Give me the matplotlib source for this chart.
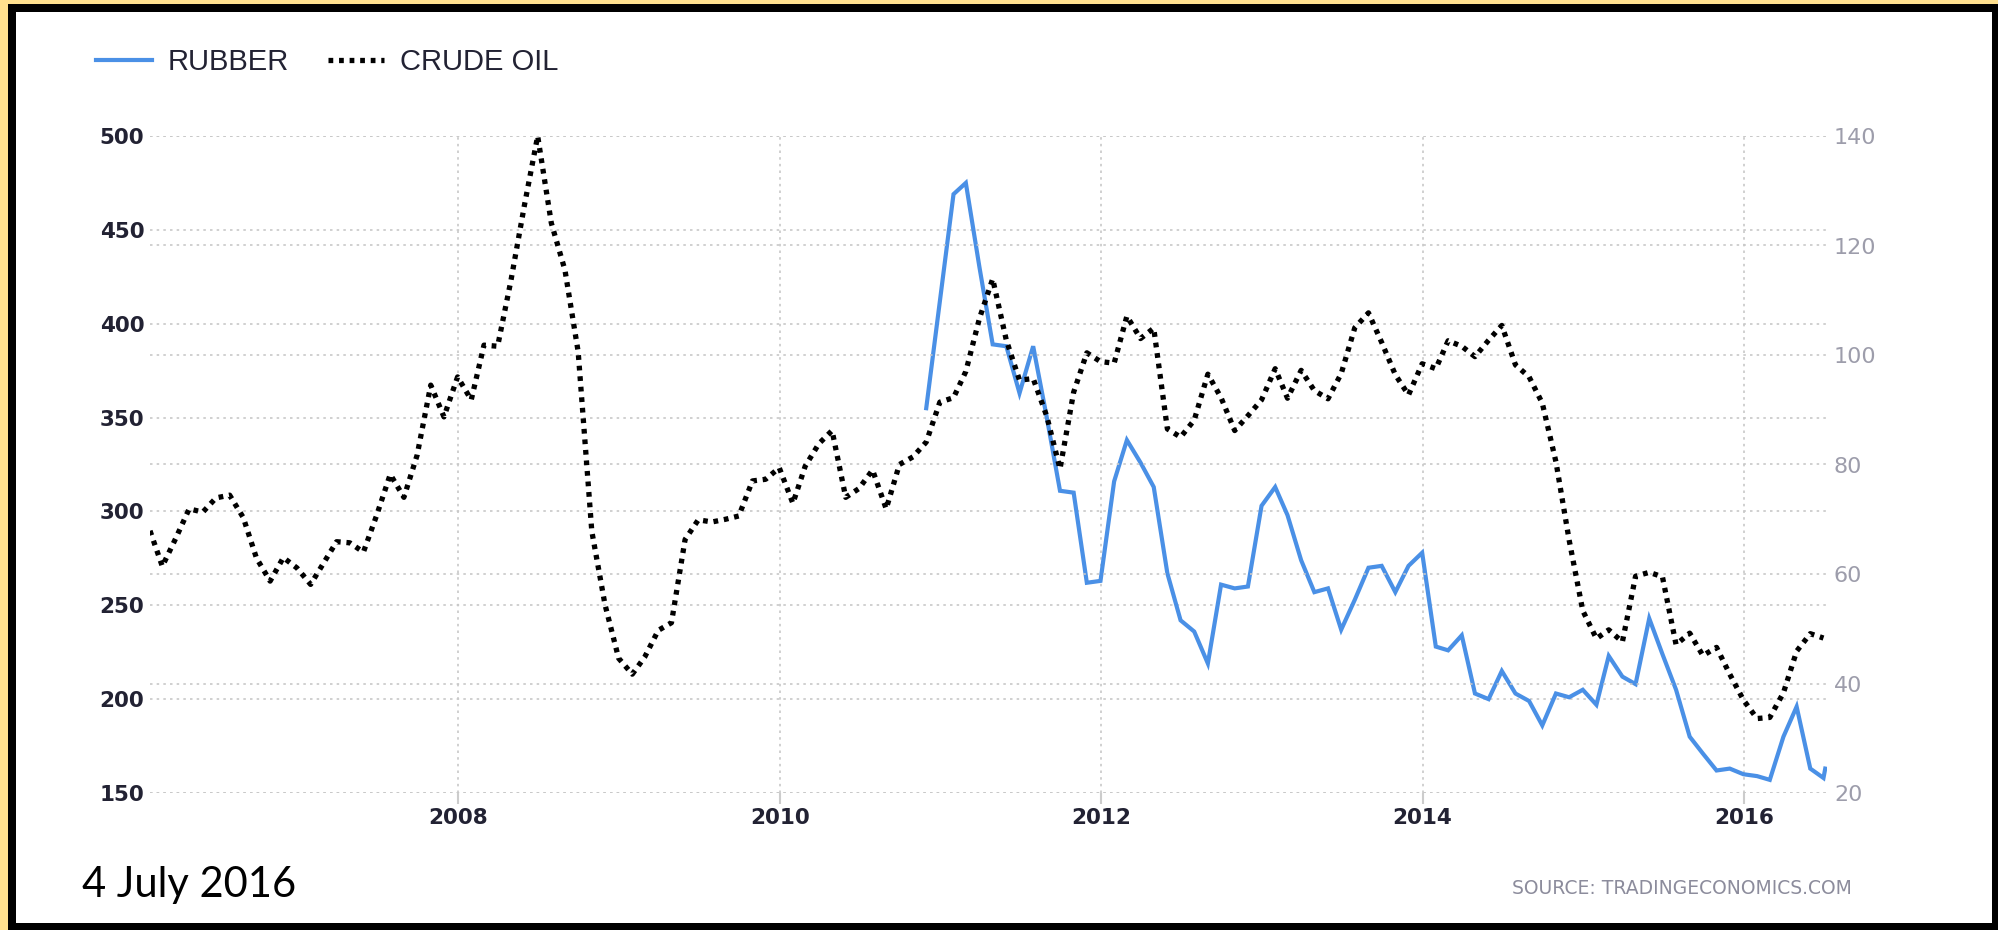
import pandas as pd
from matplotlib import pyplot as plt
from matplotlib.lines import Line2D
from matplotlib.patches import Rectangle
import matplotlib.dates as mdates


# Monthly values (month ends).
crude_oil = [
    67.9, 61.4, 66.6, 71.9, 71.3, 73.9, 74.4, 70.3, 62.9, 58.7, 63.0, 61.1,     # 2006
    58.1, 61.8, 65.9, 65.7, 64.0, 70.7, 78.2, 74.0, 81.7, 94.5, 88.7, 96.0,     # 2007
    91.8, 101.8, 101.6, 113.5, 127.4, 140.0, 124.1, 115.5, 100.6, 67.8, 54.4, 44.6,  # 2008
    41.7, 44.8, 49.7, 51.1, 66.3, 69.9, 69.5, 70.0, 70.6, 77.0, 77.3, 79.4,     # 2009
    72.9, 79.7, 83.8, 86.2, 74.0, 75.6, 79.0, 71.9, 80.0, 81.4, 84.1, 91.4,     # 2010
    92.2, 97.0, 106.7, 113.9, 102.7, 95.4, 95.7, 88.8, 79.2, 93.2, 100.4, 98.8,  # 2011
    98.5, 107.1, 103.0, 104.9, 86.5, 85.0, 88.1, 96.5, 92.2, 86.2, 88.9, 91.8,  # 2012
    97.5, 92.1, 97.2, 93.5, 92.0, 96.6, 105.0, 107.7, 102.3, 96.4, 92.7, 98.4,  # 2013
    97.5, 102.6, 101.6, 99.7, 102.7, 105.4, 98.2, 96.0, 91.2, 80.5, 66.2, 53.3,  # 2014
    48.2, 49.8, 47.6, 59.6, 60.3, 59.5, 47.1, 49.2, 45.1, 46.6, 41.7, 37.0,     # 2015
    33.6, 33.8, 38.3, 45.9, 49.1, 48.3,                                         # 2016
]
crude_dates = pd.date_range('2006-01-31', periods=len(crude_oil), freq='ME')

rubber = [
    355, 412,                                                   # 2010 Nov-Dec
    469, 475, 430, 389, 388, 363, 388, 350, 311, 310, 262, 263,  # 2011
    316, 338, 326, 313, 267, 242, 236, 219, 261, 259, 260, 303,  # 2012
    313, 298, 274, 257, 259, 237, 253, 270, 271, 257, 271, 278,  # 2013
    228, 226, 234, 203, 200, 215, 203, 199, 186, 203, 201, 205,  # 2014
    197, 223, 212, 208, 243, 224, 205, 180, 171, 162, 163, 160,  # 2015
    159, 157, 180, 196, 163, 158,                                # 2016
]
rubber_dates = list(pd.date_range('2010-11-30', periods=len(rubber), freq='ME'))
# last quote of the series (4 July 2016)
rubber.append(163)
rubber_dates.append(pd.Timestamp('2016-07-04'))

rubber_ticks = [150, 200, 250, 300, 350, 400, 450, 500]
crude_ticks = [20, 40, 60, 80, 100, 120, 140]
year_ticks = ['2008', '2010', '2012', '2014', '2016']

W, H = 1998, 930
fig = plt.figure(figsize=(W / 100, H / 100), dpi=100)
fig.patch.set_facecolor('#ffe08e')

# black frame + white card
fig.patches.append(Rectangle((8 / W, 0), 1, 926 / H, transform=fig.transFigure,
                             facecolor='black', edgecolor='none', zorder=-2))
fig.patches.append(Rectangle((16 / W, 7 / H), (1992 - 16) / W, (918 - 7) / H,
                             transform=fig.transFigure, facecolor='white',
                             edgecolor='none', zorder=-1))

ax = fig.add_axes([150 / W, 137 / H, (1827 - 150) / W, (794 - 137) / H])
ax.set_facecolor('none')
ax2 = ax.twinx()

blue = '#4a90e6'
grid_kw = dict(color='#c8c8c8', linestyle=(0, (1.5, 2.5)), linewidth=1.2)
dots = (0, (0.9, 1.1))

ax.plot(rubber_dates, rubber, color=blue, linewidth=3.0, solid_joinstyle='miter')
ax2.plot(crude_dates, crude_oil, color='black', linewidth=3.8, linestyle=dots)

ax.set_ylim(150, 500)
ax2.set_ylim(20, 140)
ax.set_yticks(rubber_ticks)
ax2.set_yticks(crude_ticks)
ax.set_xlim(crude_dates[0], pd.Timestamp('2016-07-08'))
ax.set_xticks([pd.Timestamp(y + '-01-01') for y in year_ticks])
ax.xaxis.set_major_formatter(mdates.DateFormatter('%Y'))

ax.grid(True, axis='both', **grid_kw)
ax2.grid(True, axis='y', **grid_kw)
ax.set_axisbelow(True)

for a in (ax, ax2):
    for s in a.spines.values():
        s.set_visible(False)

ax.tick_params(axis='y', length=0, pad=4, labelsize=15.5, labelcolor='#222233')
for lab in ax.get_yticklabels():
    lab.set_fontweight('bold')
ax.tick_params(axis='x', length=8, width=1.5, color='#cccccc', pad=3,
               labelsize=15.5, labelcolor='#222233')
for lab in ax.get_xticklabels():
    lab.set_fontweight('bold')
ax2.tick_params(axis='y', length=0, pad=5, labelsize=16, labelcolor='#9d9dab')

# legend
handles = [Line2D([], [], color=blue, linewidth=3.0),
           Line2D([], [], color='black', linewidth=3.8, linestyle=dots)]
fig.legend(handles, ['RUBBER', 'CRUDE OIL'], loc='center left',
           bbox_to_anchor=(70 / W, 1 - 62 / H), ncol=2, frameon=False,
           prop={'family': 'Liberation Sans', 'size': 21},
           labelcolor='#222233', handlelength=1.9, handletextpad=0.55,
           columnspacing=1.35)

fig.text(82 / W, 1 - 897 / H, '4 July 2016', family='Lato', fontsize=30,
         color='black', va='baseline', ha='left')
fig.text(1852 / W, 1 - 888 / H, 'SOURCE: TRADINGECONOMICS.COM', fontsize=13.5,
         color='#8c8c9c', va='center', ha='right')

fig.savefig('out.png', dpi=100, facecolor=fig.get_facecolor())
